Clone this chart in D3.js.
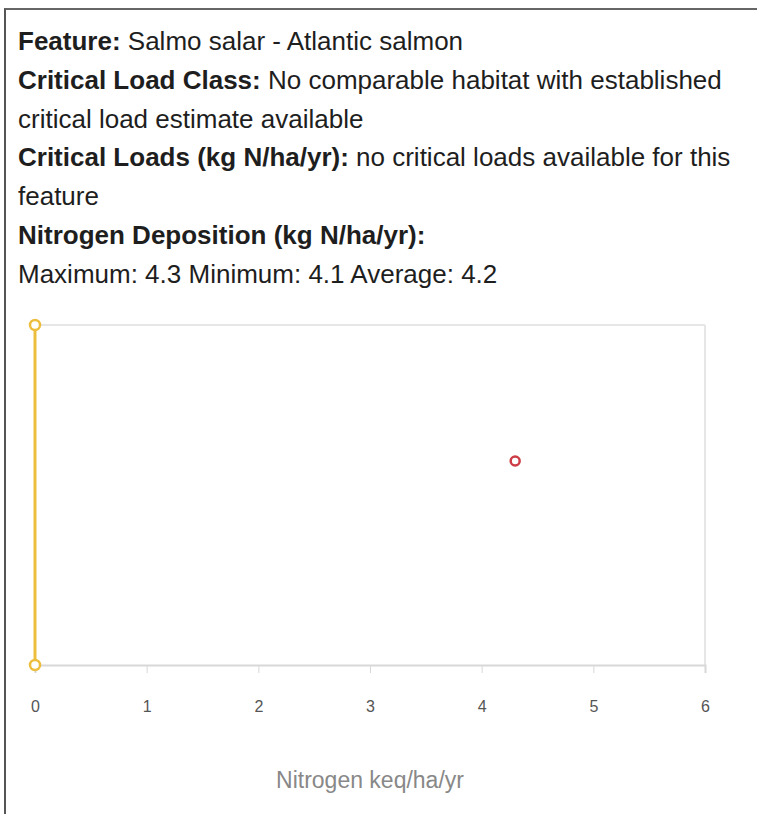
<!DOCTYPE html>
<html><head><meta charset="utf-8">
<script src="https://cdn.jsdelivr.net/npm/d3@7"></script>
<style>
html,body{margin:0;padding:0;background:#fff;}
#box{position:absolute;left:4px;top:8px;width:800px;height:900px;border-left:2px solid #555;border-top:2px solid #666;}
#info{position:absolute;left:18px;top:22px;font-family:"Liberation Sans",Arial,sans-serif;font-size:26px;line-height:38.8px;color:#1e1e1e;white-space:nowrap;}
svg{position:absolute;left:0;top:0;}
</style></head><body>
<div id="box"></div>
<div id="info"></div>
<svg id="chart" width="757" height="814"></svg>
<script>
const featureName = "Salmo salar - Atlantic salmon";
const loadClass = ["No comparable habitat with established", "critical load estimate available"];
const criticalLoadText = ["no critical loads available for this", "feature"];
const depositionStats = {Maximum: 4.3, Minimum: 4.1, Average: 4.2};
const xTicks = [0, 1, 2, 3, 4, 5, 6];
const criticalLoadX = [0, 0];
const criticalLoadY = [0, 1];
const depositionX = [4.3];
const depositionY = [0.6];
const xTitle = "Nitrogen keq/ha/yr";

const info = d3.select("#info");
info.html(
  "<b>Feature:</b> " + featureName + "<br>" +
  "<b>Critical Load Class:</b> " + loadClass[0] + "<br>" + loadClass[1] + "<br>" +
  "<b>Critical Loads (kg N/ha/yr):</b> " + criticalLoadText[0] + "<br>" + criticalLoadText[1] + "<br>" +
  "<b>Nitrogen Deposition (kg N/ha/yr):</b><br>" +
  Object.entries(depositionStats).map(([k,v]) => k + ": " + v).join(" ")
);

const svg = d3.select("#chart");
const x = d3.scaleLinear().domain([0, 6]).range([35, 705]);
const y = d3.scaleLinear().domain([0, 1]).range([665, 325]);

// plot frame
svg.append("line").attr("x1", 35).attr("x2", 705).attr("y1", y(1)).attr("y2", y(1))
  .attr("stroke", "#e6e6e6").attr("stroke-width", 2);
svg.append("line").attr("x1", 705).attr("x2", 705).attr("y1", y(1)).attr("y2", y(0))
  .attr("stroke", "#e6e6e6").attr("stroke-width", 2);

const axis = d3.axisBottom(x).tickValues(xTicks).tickSize(8).tickPadding(33).tickFormat(d3.format("d"));
const ag = svg.append("g").attr("transform", `translate(0,${y(0)})`).call(axis);
ag.select(".domain").attr("stroke", "#d8d8d8").attr("stroke-width", 2);
ag.selectAll(".tick line").attr("stroke", "#d8d8d8").attr("stroke-width", 1);
ag.selectAll(".tick text").attr("fill", "#555").style("font-size", "16px").attr("dy", "0.35em")
  .style("font-family", "'Liberation Sans',Arial,sans-serif");

svg.append("text").attr("x", x(3)).attr("y", 788).attr("text-anchor", "middle")
  .attr("fill", "#888").style("font-size", "23px").style("font-family", "'Liberation Sans',Arial,sans-serif")
  .text(xTitle);

// critical load series
const clData = criticalLoadX.map((d, i) => [d, criticalLoadY[i]]);
svg.append("path").datum(clData)
  .attr("d", d3.line().x(d => x(d[0])).y(d => y(d[1])))
  .attr("stroke", "#edbd3d").attr("stroke-width", 3).attr("fill", "none");
svg.selectAll(".clpt").data(clData).join("circle").attr("class", "clpt")
  .attr("cx", d => x(d[0])).attr("cy", d => y(d[1])).attr("r", 5)
  .attr("fill", "#fff").attr("stroke", "#edbd3d").attr("stroke-width", 2.5);

// deposition point
const depData = depositionX.map((d, i) => [d, depositionY[i]]);
svg.selectAll(".dep").data(depData).join("circle").attr("class", "dep")
  .attr("cx", d => x(d[0])).attr("cy", d => y(d[1])).attr("r", 4.5)
  .attr("fill", "#fff").attr("stroke", "#cc3d45").attr("stroke-width", 2.5);
</script>
</body></html>
